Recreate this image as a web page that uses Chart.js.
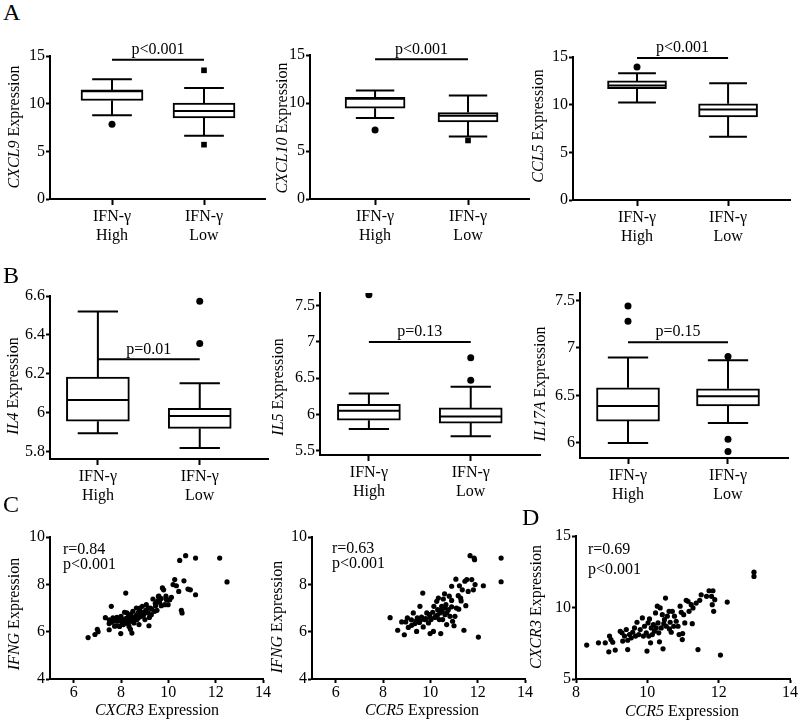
<!DOCTYPE html>
<html lang="en">
<head>
  <meta charset="UTF-8">
  <title>IFN-γ high vs low expression</title>
  <script src="https://cdn.jsdelivr.net/npm/chart.js"></script>
  <style>
    body { margin: 0; background: #fff; font-family: 'Liberation Serif', 'Times New Roman', serif; color: #000; }
    #fig { position: relative; width: 800px; height: 720px; overflow: hidden; }
    canvas { position: absolute; }
    .letter { position: absolute; font-size: 24px; line-height: 24px; }
    .ytitle { position: absolute; transform: translate(-50%, -50%) rotate(-90deg); white-space: nowrap; font-size: 16px; line-height: 16px; }
    .xtitle { position: absolute; transform: translate(-50%, -50%); white-space: nowrap; font-size: 16px; line-height: 16px; }
    .stat { position: absolute; font-size: 16px; white-space: nowrap; }
  </style>
</head>
<body>
<div id="fig">
  <canvas id="a1"></canvas><canvas id="a2"></canvas><canvas id="a3"></canvas>
  <canvas id="b1"></canvas><canvas id="b2"></canvas><canvas id="b3"></canvas>
  <canvas id="c1"></canvas><canvas id="c2"></canvas><canvas id="d1"></canvas>

  <div class="letter" style="left:3px;top:0px">A</div>
  <div class="letter" style="left:3px;top:263px">B</div>
  <div class="letter" style="left:3px;top:492px">C</div>
  <div class="letter" style="left:522px;top:505px">D</div>

  <div class="ytitle" style="left:14px;top:127px"><i>CXCL9</i> Expression</div>
  <div class="ytitle" style="left:282px;top:128px"><i>CXCL10</i> Expression</div>
  <div class="ytitle" style="left:538px;top:126px"><i>CCL5</i> Expression</div>
  <div class="ytitle" style="left:13px;top:386px"><i>IL4</i> Expression</div>
  <div class="ytitle" style="left:278px;top:387px"><i>IL5</i> Expression</div>
  <div class="ytitle" style="left:540px;top:384px"><i>IL17A</i> Expression</div>
  <div class="ytitle" style="left:14px;top:614px"><i>IFNG</i> Expression</div>
  <div class="ytitle" style="left:277px;top:617px"><i>IFNG</i> Expression</div>
  <div class="ytitle" style="left:536px;top:607px"><i>CXCR3</i> Expression</div>

  <div class="xtitle" style="left:157px;top:710px"><i>CXCR3</i> Expression</div>
  <div class="xtitle" style="left:422px;top:710px"><i>CCR5</i> Expression</div>
  <div class="xtitle" style="left:682px;top:711px"><i>CCR5</i> Expression</div>

  <div class="stat" style="left:63px;top:541px;line-height:15px">r=0.84<br>p&lt;0.001</div>
  <div class="stat" style="left:332px;top:540px;line-height:15px">r=0.63<br>p&lt;0.001</div>
  <div class="stat" style="left:588px;top:539px;line-height:20px">r=0.69<br>p&lt;0.001</div>
</div>

<script>
  // box stats: [min, q1, median, q3, max]
  const groups = ['High', 'Low'];

  const cxcl9High = [8.79, 10.33, 11.3, 11.44, 12.56];
  const cxcl9Low = [6.63, 8.5, 9.24, 10.05, 11.65];
  const cxcl9HighOut = [7.85];
  const cxcl9LowOut = [13.5, 5.7];

  const cxcl10High = [8.45, 9.46, 10.45, 10.6, 11.3];
  const cxcl10Low = [6.5, 8.04, 8.66, 9.0, 10.77];
  const cxcl10HighOut = [7.2];
  const cxcl10LowOut = [6.1];

  const ccl5High = [10.22, 11.68, 12.0, 12.49, 13.29];
  const ccl5Low = [6.63, 8.72, 9.49, 10.1, 12.24];
  const ccl5HighOut = [13.95];
  const ccl5LowOut = [];

  const il4High = [5.896, 5.958, 6.066, 6.184, 6.521];
  const il4Low = [5.82, 5.921, 5.985, 6.024, 6.152];
  const il4HighOut = [];
  const il4LowOut = [6.573, 6.357];

  const il5High = [5.80, 5.92, 6.05, 6.14, 6.29];
  const il5Low = [5.70, 5.88, 5.97, 6.09, 6.38];
  const il5HighOut = [7.65];
  const il5LowOut = [6.78, 6.47];

  const il17aHigh = [6.0, 6.23, 6.39, 6.58, 6.90];
  const il17aLow = [6.21, 6.39, 6.49, 6.57, 6.87];
  const il17aHighOut = [7.44, 7.28];
  const il17aLowOut = [6.91, 6.04, 5.91];

  const pTexts = ['p<0.001', 'p<0.001', 'p<0.001', 'p=0.01', 'p=0.13', 'p=0.15'];
  const pLevels = [14.6, 14.55, 14.9, 6.275, 7.0, 7.06];

  const ticksChemo = [0, 5, 10, 15];
  const ticksIl4 = [5.8, 6, 6.2, 6.4, 6.6];
  const ticksIl5 = [5.5, 6, 6.5, 7, 7.5];
  const ticksIl17a = [6, 6.5, 7, 7.5];
  const ticksIfng = [4, 6, 8, 10];
  const ticksExprX = [6, 8, 10, 12, 14];
  const ticksCcr5D = [8, 10, 12, 14];
  const ticksCxcr3D = [5, 10, 15];

  // scatter points [x, y]
  const ifngVsCxcr3 = [
    [6.61,5.75],[6.9,5.88],[7.03,6.0],[7.0,6.1],[7.34,6.59],[7.59,7.07],[7.5,6.5],[7.5,6.34],[7.5,6.08],
    [7.66,6.58],[7.73,6.23],[7.83,6.6],[7.87,6.44],[7.94,6.22],[7.99,5.92],[8.0,6.65],[8.1,6.5],[8.15,6.82],
    [8.2,7.63],[8.22,6.37],[8.3,6.62],[8.34,6.22],[8.4,6.72],[8.44,6.44],[8.46,5.94],[8.5,6.86],[8.55,6.37],
    [8.6,6.62],[8.65,7.0],[8.68,6.51],[8.72,6.79],[8.76,6.3],[8.79,6.93],[8.86,6.65],[8.9,7.07],[8.96,6.82],
    [9.01,6.51],[9.07,7.14],[9.14,6.79],[9.18,6.25],[9.24,7.0],[9.28,6.72],[9.35,7.38],[9.42,6.86],[9.46,7.1],
    [9.52,6.9],[9.58,7.49],[9.63,7.24],[9.7,7.1],[9.75,7.85],[9.8,7.77],[9.85,7.14],[9.92,7.35],[9.99,7.14],
    [10.06,7.35],[10.13,7.45],[10.2,7.99],[10.27,8.2],[10.34,7.94],[10.44,7.7],[10.48,9.01],[10.55,6.9],
    [10.58,6.79],[10.66,8.15],[10.73,9.21],[10.83,7.8],[10.93,7.77],[11.15,9.11],[11.15,7.56],[12.17,9.11],
    [12.48,8.1],[7.7,6.45],[7.9,6.55],[8.05,6.4],[8.2,6.55],[8.35,6.5],[8.45,6.65],[8.55,6.55],[8.65,6.7],
    [8.75,6.6],[8.85,6.8],[8.95,6.7],[9.05,6.9],[9.15,7.0],[9.3,6.95],[9.45,7.2],[9.55,7.3],[9.7,7.4],
    [8.1,6.3],[8.3,6.35],[8.5,6.45],[7.6,6.4],[7.8,6.25],[9.6,7.5],[9.9,7.5],[8.4,6.1],[8.25,6.8],[8.8,7.0],[9.2,6.6]
  ];
  const ifngVsCcr5 = [
    [8.3,6.59],[8.62,6.06],[8.79,6.41],[8.9,5.87],[8.96,6.41],[9.03,6.58],[9.07,6.18],[9.21,6.27],[9.28,6.79],
    [9.35,6.34],[9.42,6.01],[9.45,6.58],[9.54,6.39],[9.56,7.07],[9.63,6.62],[9.68,7.63],[9.7,6.2],[9.77,6.51],
    [9.85,6.79],[9.92,6.37],[9.96,6.72],[9.99,5.92],[10.03,6.51],[10.1,6.82],[10.13,6.01],[10.15,7.07],
    [10.23,6.65],[10.27,7.28],[10.31,6.93],[10.34,7.42],[10.38,6.51],[10.41,6.79],[10.44,5.92],[10.48,7.07],
    [10.52,6.51],[10.55,7.38],[10.62,6.72],[10.66,7.14],[10.69,6.3],[10.76,6.93],[10.83,6.65],[10.9,7.32],
    [10.94,6.44],[11.0,6.25],[11.04,6.65],[10.9,7.92],[11.08,8.22],[11.18,7.52],[11.23,7.94],[11.28,7.42],
    [11.35,7.77],[11.42,6.06],[11.46,8.13],[11.54,8.2],[11.75,8.2],[11.82,7.77],[11.89,7.99],[11.68,9.21],
    [11.85,9.11],[11.87,9.04],[12.03,5.77],[12.24,7.94],[12.99,9.11],[12.99,8.11],[10.8,7.5],[10.6,7.0],
    [10.4,6.9],[10.2,6.6],[10.0,6.6],[9.8,6.55],[9.6,6.5],[9.4,6.45],[9.2,6.5],[10.3,6.7],[10.5,6.85],
    [10.7,6.8],[11.1,7.0],[11.2,6.95],[11.5,7.1],[10.9,7.05],[11.6,7.7],[11.3,7.3],[10.6,7.6]
  ];
  const cxcr3VsCcr5 = [
    [8.3,7.37],[8.63,7.53],[8.82,7.53],[8.92,6.9],[8.94,8.0],[8.98,7.76],[9.03,7.57],[9.1,7.02],[9.24,8.34],
    [9.29,8.23],[9.31,7.65],[9.36,8.0],[9.41,8.46],[9.45,7.71],[9.45,7.06],[9.5,8.11],[9.55,7.88],[9.59,8.27],
    [9.64,8.57],[9.67,8.0],[9.71,8.97],[9.76,8.11],[9.8,8.46],[9.86,9.27],[9.89,8.0],[9.92,8.69],[9.97,8.23],
    [9.99,6.95],[10.02,8.92],[10.04,8.0],[10.06,9.2],[10.09,7.53],[10.11,8.57],[10.14,8.11],[10.17,8.8],
    [10.2,8.34],[10.23,9.62],[10.25,8.57],[10.28,10.09],[10.3,8.92],[10.32,8.23],[10.34,7.6],[10.36,9.97],
    [10.39,8.57],[10.42,9.5],[10.44,7.11],[10.46,8.87],[10.48,9.15],[10.51,10.66],[10.53,8.69],[10.56,9.39],
    [10.61,9.73],[10.62,8.5],[10.64,8.97],[10.67,8.27],[10.7,9.73],[10.74,8.69],[10.76,9.39],[10.81,9.04],
    [10.86,8.69],[10.89,8.11],[10.92,10.09],[10.95,9.66],[10.98,7.76],[10.99,8.18],[11.02,9.5],[11.05,8.92],
    [11.09,10.5],[11.14,10.43],[11.17,9.73],[11.23,10.2],[11.26,8.87],[11.28,9.97],[11.37,10.31],[11.42,7.06],
    [11.47,10.5],[11.51,10.89],[11.66,10.78],[11.73,11.17],[11.8,10.78],[11.82,10.2],[11.84,11.17],
    [11.86,9.73],[11.89,10.55],[12.05,6.67],[12.24,10.38],[12.99,12.47],[12.99,12.17]
  ];

  const FONT = { family: 'Liberation Serif', size: 16 };
  const YW = 40;

  // place a canvas so that its chart area covers [left, top, right, bottom] on the page
  function mount(id, area, padTop, padRight, xh) {
    const c = document.getElementById(id);
    const left = area[0] - YW, top = area[1] - padTop;
    const w = area[2] - left + padRight, h = area[3] - top + xh;
    c.style.left = left + 'px';
    c.style.top = top + 'px';
    c.width = w; c.height = h;
    c.style.width = w + 'px';
    c.style.height = h + 'px';
    return c;
  }

  function axis(min, max, ticks, fmt, fit, tickLen, pad) {
    return {
      type: 'linear', min: min, max: max, offset: false,
      afterBuildTicks: s => { s.ticks = ticks.map(v => ({ value: v })); },
      afterFit: fit,
      ticks: { callback: fmt, color: '#000', font: FONT, padding: pad, autoSkip: false, maxRotation: 0 },
      grid: { display: true, drawOnChartArea: false, drawTicks: true, tickLength: tickLen, tickWidth: 2, tickColor: '#000', offset: false },
      border: { display: true, color: '#000', width: 2 }
    };
  }

  function boxChart(id, area, xRange, yRange, yTicks, stats, outs, shapes, pText, pY, boxW) {
    const xh = 48;
    const c = mount(id, area, 28, 12, xh);
    const parts = {
      id: 'boxParts',
      afterDatasetsDraw(chart) {
        const { ctx } = chart;
        const x = chart.scales.x, y = chart.scales.y;
        ctx.save();
        ctx.strokeStyle = '#000';
        ctx.lineWidth = 2;
        stats.forEach((s, i) => {
          const cx = x.getPixelForValue(i + 1);
          const half = boxW / 2, cap = boxW * 0.32;
          const [mn, q1, md, q3, mx] = s.map(v => y.getPixelForValue(v));
          ctx.beginPath();
          ctx.moveTo(cx, q3); ctx.lineTo(cx, mx);
          ctx.moveTo(cx - cap, mx); ctx.lineTo(cx + cap, mx);
          ctx.moveTo(cx, q1); ctx.lineTo(cx, mn);
          ctx.moveTo(cx - cap, mn); ctx.lineTo(cx + cap, mn);
          ctx.moveTo(cx - half + 1, md); ctx.lineTo(cx + half - 1, md);
          ctx.stroke();
        });
        ctx.fillStyle = '#000';
        ctx.font = '16px "Liberation Serif"';
        ctx.textAlign = 'center';
        ctx.textBaseline = 'bottom';
        ctx.fillText(pText, (x.getPixelForValue(1) + x.getPixelForValue(2)) / 2, y.getPixelForValue(pY) - 2);
        ctx.restore();
      }
    };
    const outSets = outs.map((vals, i) => ({
      type: 'scatter',
      data: vals.map(v => ({ x: i + 1, y: v })),
      pointStyle: shapes[i],
      pointRadius: shapes[i] === 'rect' ? 4 : 3.5,
      backgroundColor: '#000', borderColor: '#000', borderWidth: 0,
      order: 0
    }));
    return new Chart(c, {
      type: 'bar',
      data: {
        datasets: [
          {
            type: 'bar',
            data: stats.map((s, i) => ({ x: i + 1, y: [s[1], s[3]] })),
            backgroundColor: '#fff', borderColor: '#000', borderWidth: 2, borderSkipped: false,
            barThickness: boxW, order: 2
          },
          ...outSets,
          {
            type: 'line',
            data: [{ x: 1, y: pY }, { x: 2, y: pY }],
            borderColor: '#000', borderWidth: 2, pointRadius: 0, order: 1
          }
        ]
      },
      options: {
        responsive: false, animation: false, events: [],
        layout: { padding: { top: 28, right: 12, left: 0, bottom: 0 } },
        plugins: { legend: { display: false }, tooltip: { enabled: false } },
        scales: {
          x: axis(xRange[0], xRange[1], [1, 2], v => ['IFN-γ', groups[v - 1]], s => { s.height = xh; }, 6, 2),
          y: axis(yRange[0], yRange[1], yTicks, v => String(v), s => { s.width = YW; }, 4, 1)
        }
      },
      plugins: [parts]
    });
  }

  function scatterChart(id, area, xRange, yRange, xTicks, yTicks, points) {
    const xh = 26;
    const c = mount(id, area, 14, 12, xh);
    return new Chart(c, {
      type: 'scatter',
      data: {
        datasets: [{
          data: points.map(p => ({ x: p[0], y: p[1] })),
          pointRadius: 2.6, backgroundColor: '#000', borderWidth: 0
        }]
      },
      options: {
        responsive: false, animation: false, events: [],
        layout: { padding: { top: 14, right: 12, left: 0, bottom: 0 } },
        plugins: { legend: { display: false }, tooltip: { enabled: false } },
        scales: {
          x: axis(xRange[0], xRange[1], xTicks, v => String(v), s => { s.height = xh; }, 4, 0),
          y: axis(yRange[0], yRange[1], yTicks, v => String(v), s => { s.width = YW; }, 4, 1)
        }
      }
    });
  }

  boxChart('a1', [50, 56, 265, 199], [0.326, 2.663], [0, 15], ticksChemo,
    [cxcl9High, cxcl9Low], [cxcl9HighOut, cxcl9LowOut], ['circle', 'rect'], pTexts[0], pLevels[0], 62);
  boxChart('a2', [310, 55, 529, 199], [0.30, 2.656], [0, 15], ticksChemo,
    [cxcl10High, cxcl10Low], [cxcl10HighOut, cxcl10LowOut], ['circle', 'rect'], pTexts[1], pLevels[1], 60);
  boxChart('a3', [573, 57, 790, 200], [0.297, 2.68], [0, 15], ticksChemo,
    [ccl5High, ccl5Low], [ccl5HighOut, ccl5LowOut], ['circle', 'circle'], pTexts[2], pLevels[2], 59);

  boxChart('b1', [50, 296, 268, 459], [0.53, 2.67], [5.764, 6.6], ticksIl4,
    [il4High, il4Low], [il4HighOut, il4LowOut], ['circle', 'circle'], pTexts[3], pLevels[3], 63);
  boxChart('b2', [320, 293, 540, 455], [0.52, 2.68], [5.44, 7.675], ticksIl5,
    [il5High, il5Low], [il5HighOut, il5LowOut], ['circle', 'circle'], pTexts[4], pLevels[4], 63);
  boxChart('b3', [580, 293, 788, 458], [0.52, 2.6], [5.842, 7.577], ticksIl17a,
    [il17aHigh, il17aLow], [il17aHighOut, il17aLowOut], ['circle', 'circle'], pTexts[5], pLevels[5], 63);

  scatterChart('c1', [50, 537, 263, 679], [5, 14], [4, 10], ticksExprX, ticksIfng, ifngVsCxcr3);
  scatterChart('c2', [312, 537, 525, 679], [5, 14], [4, 10], ticksExprX, ticksIfng, ifngVsCcr5);
  scatterChart('d1', [576, 536, 790, 679], [8, 14], [5, 15], ticksCcr5D, ticksCxcr3D, cxcr3VsCcr5);
</script>
</body>
</html>
